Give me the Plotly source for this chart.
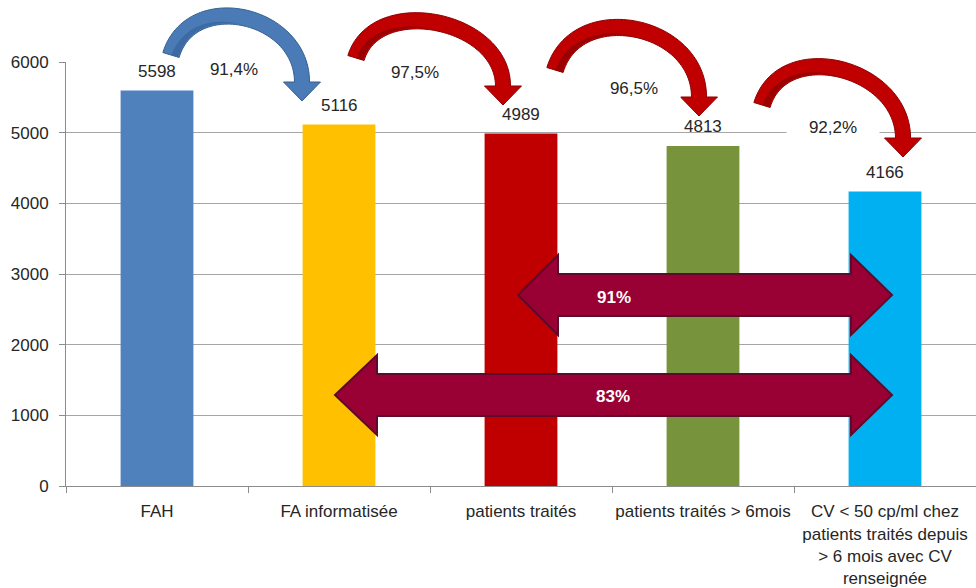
import html
import numpy as np
import plotly.graph_objects as go

# ---------------- data ----------------
category_lines = [
    ["FAH"],
    ["FA informatisée"],
    ["patients traités"],
    ["patients traités > 6mois"],
    ["CV < 50 cp/ml chez", "patients traités depuis", "> 6 mois avec CV", "renseignée"],
]
values = [5598, 5116, 4989, 4813, 4166]
bar_colors = ["#4F81BD", "#FFC000", "#C00000", "#77933C", "#00B0F0"]
step_labels = ["91,4%", "97,5%", "96,5%", "92,2%"]
span_labels = ["91%", "83%"]
y_tick_values = [0, 1000, 2000, 3000, 4000, 5000, 6000]

categories = ["<br>".join(html.escape(s, quote=False) for s in lines) for lines in category_lines]

# ---------------- layout geometry (pixels) ----------------
W, H = 976, 588
ML, MR, MT, MB = 66, 0, 62, 102
PW, PH = W - ML - MR, H - MT - MB
YMAX = 6000
FONT = "Liberation Sans, Arial, sans-serif"
TXT = "#262626"


def to_paper(px, py):
    return (px - ML) / PW, (MT + PH - py) / PH


def path_from_px(points):
    parts = []
    for k, (px, py) in enumerate(points):
        x, y = to_paper(px, py)
        parts.append(("M" if k == 0 else "L") + f"{x:.5f},{y:.5f}")
    return " ".join(parts) + " Z"


def bezier(p0, p3, k, n=60):
    d0 = np.array([0.29, -0.96])
    p0 = np.array(p0, float)
    p3 = np.array(p3, float)
    p1 = p0 + k * d0
    p2 = p3 + np.array([0.0, -k])
    t = np.linspace(0, 1, n)[:, None]
    pts = (1 - t) ** 3 * p0 + 3 * (1 - t) ** 2 * t * p1 + 3 * (1 - t) * t ** 2 * p2 + t ** 3 * p3
    der = 3 * (1 - t) ** 2 * (p1 - p0) + 6 * (1 - t) * t * (p2 - p1) + 3 * t ** 2 * (p3 - p2)
    der = der / np.linalg.norm(der, axis=1, keepdims=True)
    nrm = np.stack([der[:, 1], -der[:, 0]], axis=1)
    return pts, der, nrm


def curved_arrow(p0, p3, k, w0, w1, head_w, head_len):
    pts, der, nrm = bezier(p0, p3, k)
    w = np.linspace(w0, w1, len(pts))[:, None]
    outer = pts + nrm * w / 2
    inner = pts - nrm * w / 2
    e, te, ne = pts[-1], der[-1], nrm[-1]
    head = [e + ne * head_w / 2, e + te * head_len, e - ne * head_w / 2]
    return [tuple(p) for p in outer] + [tuple(p) for p in head] + [tuple(p) for p in inner[::-1]]


def shade_band(p0, p3, k, w0, w1, t_end=0.5):
    pts, der, nrm = bezier(p0, p3, k)
    w = np.linspace(w0, w1, len(pts))[:, None]
    m = int(len(pts) * t_end)
    inner = pts - nrm * w / 2
    mid = pts - nrm * w * 0.02
    taper = np.linspace(1, 0, m)[:, None]
    mid = inner[:m] + (mid[:m] - inner[:m]) * taper
    return [tuple(p) for p in inner[:m]] + [tuple(p) for p in mid[::-1]]


def double_arrow(x_tip_l, x_back_l, x_back_r, x_tip_r, cy, shaft_half, head_half):
    return [
        (x_tip_l, cy), (x_back_l, cy - head_half), (x_back_l, cy - shaft_half),
        (x_back_r, cy - shaft_half), (x_back_r, cy - head_half), (x_tip_r, cy),
        (x_back_r, cy + head_half), (x_back_r, cy + shaft_half),
        (x_back_l, cy + shaft_half), (x_back_l, cy + head_half),
    ]


# curved step arrows: tail centre, head-base centre, handle length (px), fill, edge, shade
curved_specs = [
    ((171, 55), (302, 82), 69, "#4A7BB7", "#34608F", "#3D6AA3"),
    ((356, 58), (503, 86), 67, "#C00000", "#8C0000", "#9A0000"),
    ((555, 70), (699, 97), 74, "#C00000", "#8C0000", "#9A0000"),
    ((762, 105), (903, 138), 71, "#C00000", "#8C0000", "#9A0000"),
]
ARROW_W0, ARROW_W1, HEAD_W, HEAD_LEN = 17, 15, 37, 19
step_pos = [(234, 69), (415, 72), (634, 88), (833, 127)]
double_specs = [
    (518, 558, 851, 892, 295, 21, 40),
    (335, 377, 851, 892, 395, 21, 40),
]
span_pos = [(614, 297), (613, 396)]

fig = go.Figure()
fig.add_trace(go.Bar(
    x=categories, y=values, marker_color=bar_colors, marker_line_width=0,
    width=0.4, hoverinfo="skip", showlegend=False,
))

shapes = []
for p0, p3, k, fill, edge, shade in curved_specs:
    shapes.append(dict(type="path", xref="paper", yref="paper",
                       path=path_from_px(curved_arrow(p0, p3, k, ARROW_W0, ARROW_W1, HEAD_W, HEAD_LEN)),
                       fillcolor=fill, line=dict(color=edge, width=1), layer="above"))
    shapes.append(dict(type="path", xref="paper", yref="paper",
                       path=path_from_px(shade_band(p0, p3, k, ARROW_W0 - 2, ARROW_W1 - 2)),
                       fillcolor=shade, line=dict(width=0), layer="above"))
for spec in double_specs:
    shapes.append(dict(type="path", xref="paper", yref="paper",
                       path=path_from_px(double_arrow(*spec)),
                       fillcolor="#990033", line=dict(color="#5E0A2C", width=2), layer="above"))

annotations = []
for cat, v in zip(categories, values):
    annotations.append(dict(x=cat, y=v, xref="x", yref="y", text=str(v), showarrow=False,
                            yshift=19, font=dict(family=FONT, size=17, color=TXT)))
for lab, (px, py) in zip(step_labels, step_pos):
    x, y = to_paper(px, py)
    annotations.append(dict(x=x, y=y, xref="paper", yref="paper", xanchor="center", yanchor="middle",
                            text=lab, showarrow=False, font=dict(family=FONT, size=17, color=TXT),
                            bgcolor="white", width=90, height=30))
for lab, (px, py) in zip(span_labels, span_pos):
    x, y = to_paper(px, py)
    annotations.append(dict(x=x, y=y, xref="paper", yref="paper", xanchor="center", yanchor="middle",
                            text=f"<b>{lab}</b>", showarrow=False,
                            font=dict(family=FONT, size=17, color="white")))

fig.update_layout(
    width=W, height=H,
    margin=dict(l=ML, r=MR, t=MT, b=MB, pad=0),
    paper_bgcolor="white", plot_bgcolor="white",
    font=dict(family=FONT, size=17, color=TXT),
    bargap=0.6,
    shapes=shapes, annotations=annotations,
    xaxis=dict(type="category", showgrid=False, showline=True, linecolor="#8C8C8C",
               ticks="outside", ticklen=6, tickcolor="#8C8C8C", tickson="boundaries",
               ticklabelstandoff=10, tickfont=dict(size=17), tickangle=0, automargin=False),
    yaxis=dict(range=[0, YMAX], tickvals=y_tick_values, showgrid=True, gridcolor="#A6A6A6",
               gridwidth=1, showline=True, linecolor="#8C8C8C", ticks="outside", ticklen=6,
               tickcolor="#8C8C8C", zeroline=False, ticklabelstandoff=7, tickfont=dict(size=17),
               automargin=False),
)

fig.write_html("out.html", config={"displayModeBar": False},
               post_script="document.body.style.margin='0px';")
